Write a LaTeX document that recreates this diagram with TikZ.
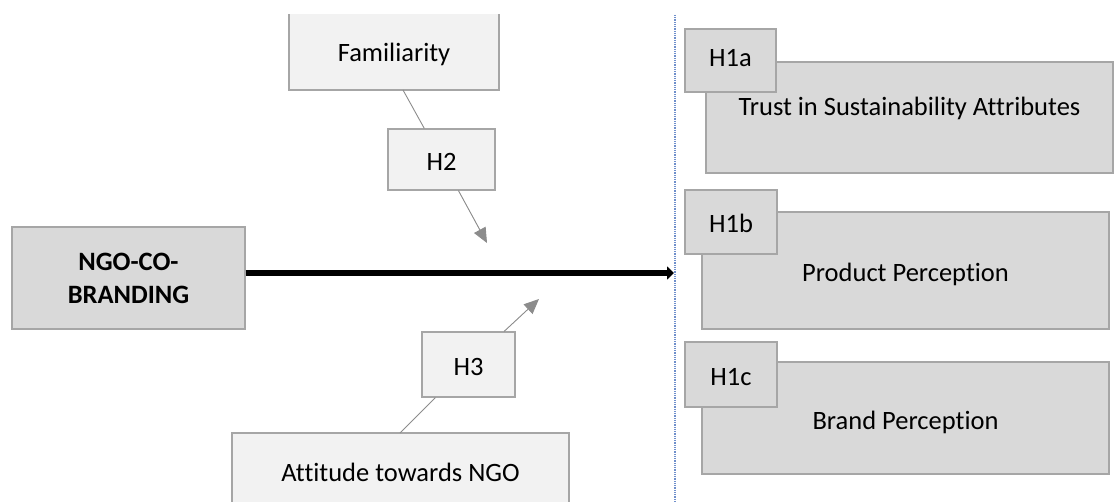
\documentclass[tikz,border=0pt]{standalone}
\usepackage{fontspec}
\setmainfont{Carlito}[Ligatures=NoCommon]
\usetikzlibrary{arrows.meta}
\definecolor{lightfill}{HTML}{F2F2F2}
\definecolor{darkfill}{HTML}{D9D9D9}
\definecolor{bordgrey}{HTML}{A6A6A6}
\definecolor{congrey}{HTML}{8C8C8C}
\definecolor{dotblue}{HTML}{6F8FCB}
\newcommand{\bigfont}{\fontsize{26.5pt}{33pt}\selectfont}
\tikzset{
  box/.style={draw=bordgrey, line width=1.2pt, inner sep=0pt, font=\bigfont, text=black,
              text height=22pt, text depth=0pt},
  lightbox/.style={box, fill=lightfill},
  darkbox/.style={box, fill=darkfill},
  thinline/.style={draw=congrey, line width=0.9pt},
  greyarrow/.style={thinline, -{Triangle[length=15pt,width=13pt]}, fill=congrey},
  mainarrow/.style={draw=black, line width=6pt, -{Triangle[length=7pt,width=13pt]}},
  divider/.style={draw=dotblue, line width=1.4pt, dash pattern=on 1pt off 0.8pt}
}
\begin{document}
\begin{tikzpicture}[x=1pt,y=-1pt]
\useasboundingbox (0,0) rectangle (1118,502);
\begin{scope}
\clip (-2,15) rectangle (1120,502);
% divider
\coordinate (dtop) at (675,15);
\coordinate (dbot) at (675,502);
\draw[divider] (dtop) -- (dbot);

% left part
\node[lightbox, minimum width=210pt, minimum height=100pt, text height=44pt] (fam) at (394,40) {Familiarity};
\node[lightbox, minimum width=107pt, minimum height=61pt] (h2) at (441.5,159.5) {H2};
\node[darkbox, minimum width=233pt, minimum height=102pt, align=center, text height=, text depth=, font=\bigfont\bfseries] (ngo) at (128.5,278) {NGO-CO-\\BRANDING};
\node[lightbox, minimum width=93pt, minimum height=65pt] (h3) at (468.5,364.5) {H3};
\node[lightbox, minimum width=337pt, minimum height=74pt] (att) at (400.5,470) {Attitude towards NGO};

\coordinate (fs) at (403,90);
\coordinate (t2) at (487,243);
\coordinate (as) at (400,433);
\coordinate (t3) at (539,299);
\coordinate (tm) at (674,273);

\draw[thinline] (h2) -- (fs);
\draw[greyarrow] (h2) -- (t2);
\draw[thinline] (as) -- (h3);
\draw[greyarrow] (h3) -- (t3);
\draw[mainarrow] (ngo.east |- tm) -- (tm);

% right part
\node[darkbox, minimum width=407pt, minimum height=111pt, text height=17pt, text depth=21pt] (trust) at (909.5,117.5) {Trust in Sustainability Attributes};
\node[darkbox, minimum width=91pt, minimum height=63pt, text height=17pt, text depth=5pt] (h1a) at (730.5,60.5) {H1a};
\node[darkbox, minimum width=407pt, minimum height=117pt] (prod) at (905.5,270.5) {Product Perception};
\node[darkbox, minimum width=92pt, minimum height=64pt] (h1b) at (731,222) {H1b};
\node[darkbox, minimum width=407pt, minimum height=112pt] (brand) at (905.5,418) {Brand Perception};
\node[darkbox, minimum width=92pt, minimum height=65pt] (h1c) at (731,374.5) {H1c};
\end{scope}
\end{tikzpicture}
\end{document}
